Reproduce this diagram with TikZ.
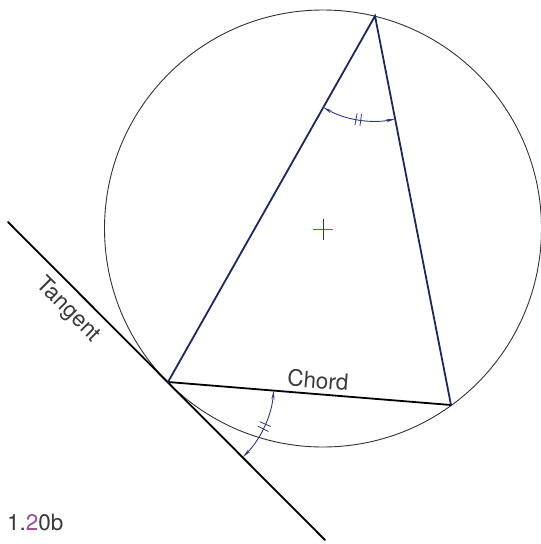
\documentclass[tikz,border=0pt]{standalone}
\usepackage{fontspec}
\setmainfont{TeX Gyre Heros}
\usetikzlibrary{calc,arrows.meta}
\definecolor{navy}{HTML}{1E2858}
\definecolor{arcblue}{HTML}{2E3A80}
\definecolor{plum}{HTML}{9A4A9A}
\definecolor{txt}{HTML}{3A3A3A}
\tikzset{
  tri/.style={navy, line width=1.8pt, line cap=round},
  blk/.style={black, line width=1.8pt, line cap=round},
  circ/.style={black!80, line width=0.9pt},
  angarc/.style={arcblue, line width=0.9pt, {Stealth[length=9pt,width=3.2pt]}-{Stealth[length=9pt,width=3.2pt]}},
  tick/.style={arcblue, line width=0.8pt},
  lab/.style={font=\fontsize{22.5}{24}\selectfont, text=txt, inner sep=0pt}
}
\begin{document}
\begin{tikzpicture}[x=1pt,y=-1pt]
\useasboundingbox (0,0) rectangle (541,544);
\coordinate (C) at (323,228.5);
\coordinate (A) at (375,16);
\coordinate (T) at (168,382);
\coordinate (B) at (451,405);
\coordinate (tan1) at (8,222);
\coordinate (tan2) at (325,540);
% circle
\draw[circ] (C) circle (218.5pt);
% center cross
\coordinate (cl) at (313,229);
\coordinate (cr) at (333,229);
\coordinate (ct) at (323,219);
\coordinate (cb) at (323,240);
\draw[plum, line width=0.8pt] (cl) -- (cr);
\draw[black!80, line width=0.8pt] (ct) -- (cb);
% tangent and chord
\draw[blk] (tan1) -- (tan2);
\draw[blk] (T) -- (B);
% triangle sides
\draw[tri] (T) -- (A) -- (B);
% apex angle
\draw[angarc] ($(A)+(-119.5:105pt)$) arc[start angle=-119.5, end angle=-78.9, radius=105pt];
\draw[tick] ($(A)+(-100.4:99pt)$) -- ($(A)+(-100.4:111pt)$);
\draw[tick] ($(A)+(-97.8:99pt)$) -- ($(A)+(-97.8:111pt)$);
% tangent-chord angle
\draw[angarc] ($(T)+(-45:106pt)$) arc[start angle=-45, end angle=-4.6, radius=106pt];
\draw[tick] ($(T)+(-26.2:100pt)$) -- ($(T)+(-26.2:112pt)$);
\draw[tick] ($(T)+(-23.4:100pt)$) -- ($(T)+(-23.4:112pt)$);
% labels
\node[lab, rotate=-4.6] (chordlab) at (318,380) {Chord};
\node[lab, rotate=-45] (tanlab) at (68,310) {Tangent};
\node[lab, anchor=base west] (fig) at (7,530) {1.{\color{plum}2}0b};
\end{tikzpicture}
\end{document}
